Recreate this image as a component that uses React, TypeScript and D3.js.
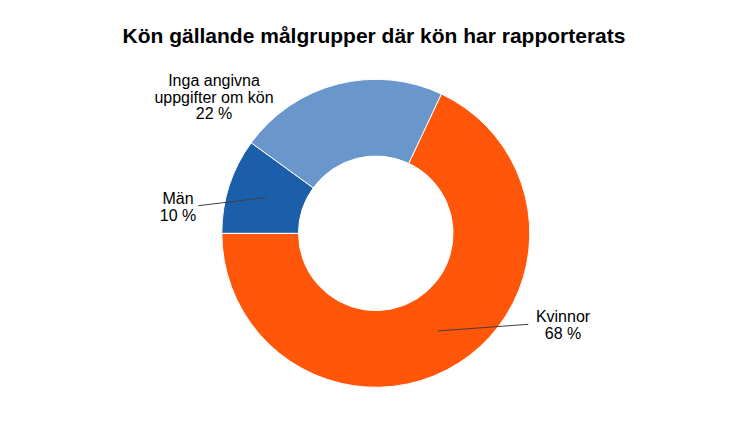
import React from "react";
import * as d3 from "d3";

const categories = ["Kvinnor", "Män", "Inga angivna uppgifter om kön"];
const values = [68, 10, 22];
const labelLines = [["Kvinnor", "68 %"], ["Män", "10 %"], ["Inga angivna", "uppgifter om kön", "22 %"]];
const colors = ["#FF560A", "#1B5EAA", "#6997CB"];
const title = "Kön gällande målgrupper där kön har rapporterats";

const W = 750;
const H = 436;
const cx = 375.8;
const cy = 233.3;
const outerR = 154;
const innerR = 77.3;

// label anchor positions (text centre x, first baseline y) and leader-line end points
const labelPos = [
  { x: 563, y: 322.3, lineEnd: [528.3, 324.3] as [number, number] },
  { x: 178, y: 204, lineEnd: [198.3, 205.7] as [number, number] },
  { x: 214, y: 86, lineEnd: null },
];

export default function App() {
  const total = d3.sum(values);
  // Kvinnor slice ends at 9 o'clock
  const start = (3 * Math.PI) / 2 - (values[0] / total) * 2 * Math.PI;
  const pie = d3
    .pie<number>()
    .sort(null)
    .value((d) => d)
    .startAngle(start)
    .endAngle(start + 2 * Math.PI);
  const arcs = pie(values);
  const arc = d3.arc<d3.PieArcDatum<number>>().innerRadius(innerR).outerRadius(outerR);

  return (
    <svg
      width={W}
      height={H}
      style={{ position: "absolute", left: 0, top: 0, background: "#fff" }}
      fontFamily="'Liberation Sans', Arial, sans-serif"
    >
      <text x={374} y={43} textAnchor="middle" fontSize={21} fontWeight="bold" fill="#000">
        {title}
      </text>
      <g transform={`translate(${cx},${cy})`}>
        {arcs.map((a, i) => (
          <path key={categories[i]} d={arc(a) || ""} fill={colors[i]} stroke="#fff" strokeWidth={1} />
        ))}
      </g>
      {arcs.map((a, i) => {
        const lp = labelPos[i];
        if (!lp.lineEnd) return null;
        const c = arc.centroid(a);
        return (
          <line
            key={"l" + i}
            x1={cx + c[0]}
            y1={cy + c[1]}
            x2={lp.lineEnd[0]}
            y2={lp.lineEnd[1]}
            stroke="#404040"
            strokeWidth={1}
          />
        );
      })}
      {labelLines.map((lines, i) => (
        <text key={"t" + i} x={labelPos[i].x} y={labelPos[i].y} textAnchor="middle" fontSize={16} fill="#000">
          {lines.map((ln, j) => (
            <tspan key={j} x={labelPos[i].x} dy={j === 0 ? 0 : 16.7}>
              {ln}
            </tspan>
          ))}
        </text>
      ))}
    </svg>
  );
}
